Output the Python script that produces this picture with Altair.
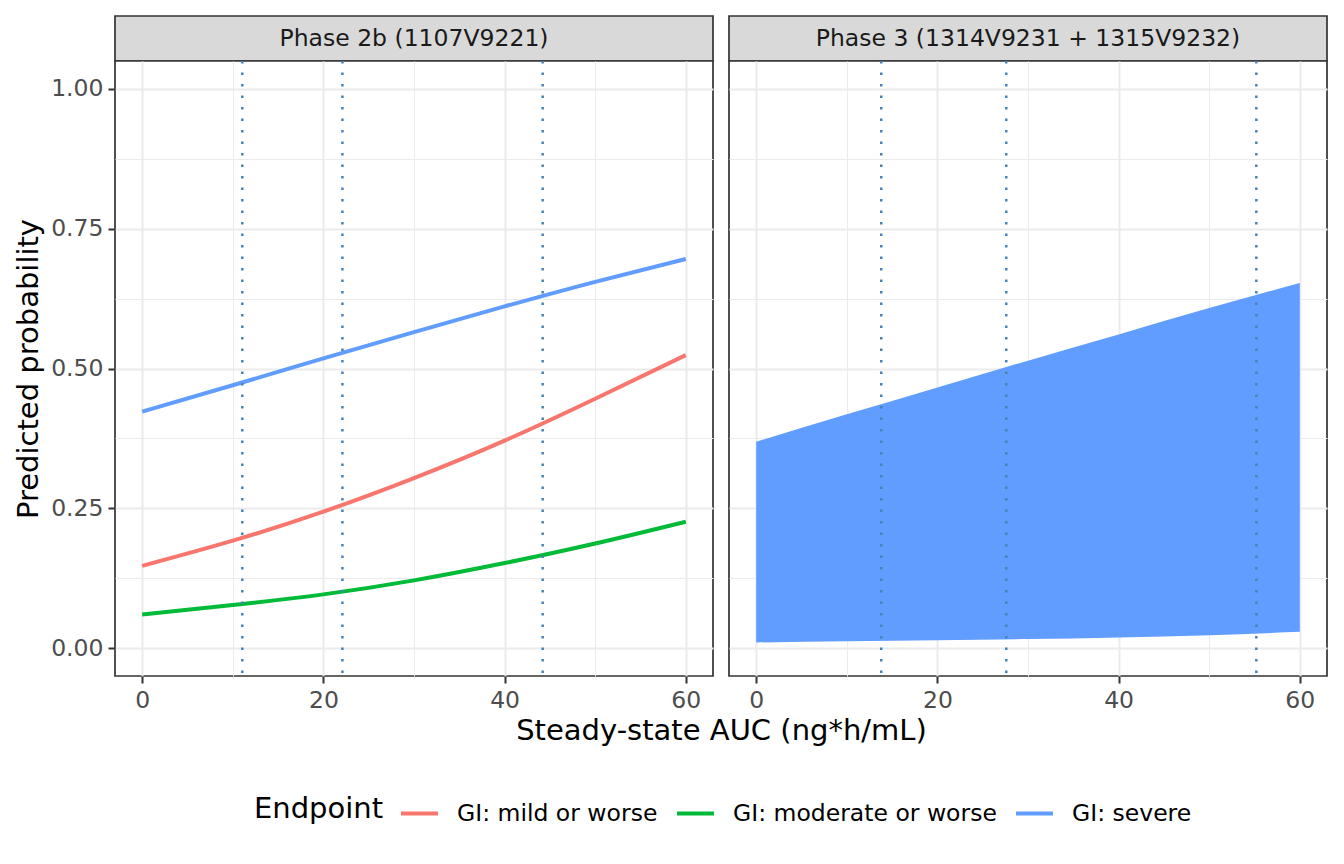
import altair as alt
import pandas as pd

# ---- data ----
endpoints = ["GI: mild or worse", "GI: moderate or worse", "GI: severe"]
colors = ["#F8766D", "#00BA38", "#619CFF"]

phase_labels = ["Phase 2b (1107V9221)", "Phase 3 (1314V9231 + 1315V9232)"]

auc_grid = [0, 10, 20, 30, 40, 50, 60]
p2_mild = [0.147, 0.192, 0.244, 0.304, 0.371, 0.446, 0.524]
p2_moderate = [0.060, 0.077, 0.096, 0.121, 0.152, 0.187, 0.226]
p2_severe = [0.423, 0.470, 0.518, 0.565, 0.611, 0.655, 0.696]

# Phase 3: the over-plotted band (low / high envelope)
p3_low = [0.010, 0.012, 0.014, 0.016, 0.019, 0.023, 0.029]
p3_high = [0.369, 0.418, 0.466, 0.514, 0.561, 0.608, 0.653]

p2_ref_auc = [11.05, 22.1, 44.2]
p3_ref_auc = [13.8, 27.6, 55.2]

x_ticks = [0, 10, 20, 30, 40, 50, 60]
y_ticks = [0, 0.125, 0.25, 0.375, 0.5, 0.625, 0.75, 0.875, 1.0]

# ---- tables ----
p2_lines = pd.DataFrame(
    [{"auc": a, "prob": v, "Endpoint": endpoints[0]} for a, v in zip(auc_grid, p2_mild)]
    + [{"auc": a, "prob": v, "Endpoint": endpoints[1]} for a, v in zip(auc_grid, p2_moderate)]
    + [{"auc": a, "prob": v, "Endpoint": endpoints[2]} for a, v in zip(auc_grid, p2_severe)]
)
p3_band = pd.DataFrame({"auc": auc_grid, "low": p3_low, "high": p3_high,
                        "Endpoint": [endpoints[2]] * len(auc_grid)})

W, H, STRIP_H = 598, 615, 45
GAP = 16
TICK = 23.5
TITLE = 29

xscale = alt.Scale(domain=[-3, 63], nice=False, zero=False)
yscale = alt.Scale(domain=[-0.05, 1.05], nice=False, zero=False)
cscale = alt.Scale(domain=endpoints, range=colors)

grid_w_x = {"condition": {"test": "datum.value % 20 === 0", "value": 2}, "value": 1}
tick_o_x = {"condition": {"test": "datum.value % 20 === 0", "value": 1}, "value": 0}
grid_w_y = {"condition": {"test": "datum.value % 0.25 === 0", "value": 2}, "value": 1}
tick_o_y = {"condition": {"test": "datum.value % 0.25 === 0", "value": 1}, "value": 0}


def x_axis(with_title):
    kw = dict(
        values=x_ticks,
        labelExpr="datum.value % 20 === 0 ? datum.label : ''",
        gridColor="#ebebeb", gridWidth=grid_w_x,
        tickColor="#333333", tickWidth=2, tickSize=7, tickOpacity=tick_o_x,
        labelFontSize=TICK, labelColor="#4d4d4d", labelPadding=5, labelFlush=False,
        domain=False,
    )
    if with_title:
        kw.update(title="Steady-state AUC (ng*h/mL)", titleFontSize=TITLE,
                  titleFontWeight="normal", titleColor="black",
                  titleX=(2 * W + GAP) / 2, titleY=63, titleAlign="center",
                  titleBaseline="alphabetic", titleAnchor="middle")
    else:
        kw.update(title=None)
    return alt.Axis(**kw)


def y_axis(with_labels):
    kw = dict(
        values=y_ticks,
        gridColor="#ebebeb", gridWidth=grid_w_y, domain=False, minExtent=0,
    )
    if with_labels:
        kw.update(
            labelExpr="datum.value % 0.25 === 0 ? format(datum.value, '.2f') : ''",
            tickColor="#333333", tickWidth=2, tickSize=7, tickOpacity=tick_o_y,
            labelFontSize=TICK, labelColor="#4d4d4d", labelPadding=5,
            title="Predicted probability", titleFontSize=TITLE, titleFontWeight="normal",
            titleColor="black", titlePadding=7,
        )
    else:
        kw.update(labels=False, ticks=False, title=None)
    return alt.Axis(**kw)


def strip(label):
    return alt.Chart(pd.DataFrame({"label": [label]})).mark_text(
        fontSize=TICK, color="#1a1a1a", baseline="middle"
    ).encode(text="label:N").properties(
        width=W, height=STRIP_H,
        view=alt.ViewBackground(fill="#d9d9d9", stroke="#333333", strokeWidth=1.7),
    )


def ref_rules(vals, axis):
    return alt.Chart(pd.DataFrame({"auc": vals})).mark_rule(
        color="#4682b4", strokeDash=[2.5, 9], strokeWidth=2.5
    ).encode(x=alt.X("auc:Q", scale=xscale, axis=axis))


legend = alt.Legend(
    title="Endpoint", orient="none", legendX=139, legendY=777, direction="horizontal",
    titleOrient="left", titleFontSize=TITLE, titleFontWeight="normal", titleColor="black",
    titlePadding=15, titleBaseline="middle", titleAnchor="middle",
    labelFontSize=TICK, labelColor="black", labelOffset=17, columnPadding=11,
    labelLimit=500, titleLimit=500,
    symbolType="stroke", symbolSize=1369, symbolStrokeWidth=4, padding=0,
)

ax1 = x_axis(True)
panel1_lines = alt.Chart(p2_lines).mark_line(strokeWidth=4, interpolate="natural").encode(
    x=alt.X("auc:Q", scale=xscale, axis=ax1),
    y=alt.Y("prob:Q", scale=yscale, axis=y_axis(True)),
    color=alt.Color("Endpoint:N", scale=cscale, legend=legend),
)
panel1 = alt.layer(panel1_lines, ref_rules(p2_ref_auc, ax1)).properties(
    width=W, height=H,
    view=alt.ViewBackground(fill="white", stroke="#333333", strokeWidth=1.7),
)

ax2 = x_axis(False)
panel2_band = alt.Chart(p3_band).mark_area(opacity=1, interpolate="natural").encode(
    x=alt.X("auc:Q", scale=xscale, axis=ax2),
    y=alt.Y("low:Q", scale=yscale, axis=y_axis(False)),
    y2="high:Q",
    color=alt.Color("Endpoint:N", scale=cscale, legend=None),
)
panel2 = alt.layer(panel2_band, ref_rules(p3_ref_auc, ax2)).properties(
    width=W, height=H,
    view=alt.ViewBackground(fill="white", stroke="#333333", strokeWidth=1.7),
)

chart = alt.concat(
    strip(phase_labels[0]), strip(phase_labels[1]), panel1, panel2,
    columns=2, spacing={"row": 0, "column": GAP}, bounds="flush",
).properties(
    padding={"left": 5, "top": 7, "right": 5, "bottom": 5}
).configure(font="DejaVu Sans").configure_view(stroke="#333333")

chart.save("out.html", embed_options={"renderer": "svg", "actions": False})
